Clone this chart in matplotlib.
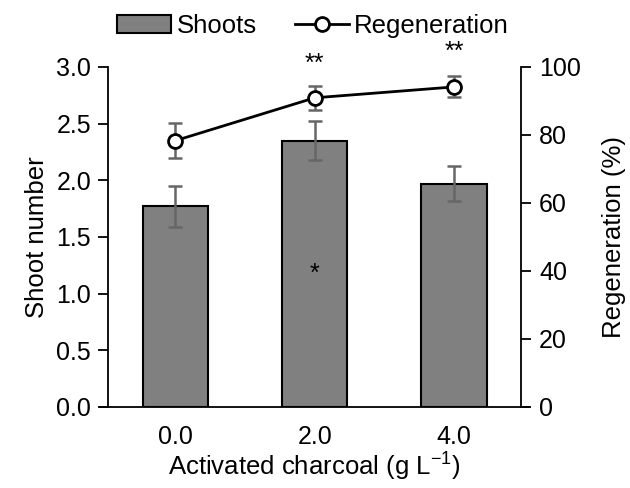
import matplotlib
matplotlib.use("Agg")
import matplotlib.pyplot as plt
import numpy as np

plt.rcParams['font.family'] = ['Liberation Sans', 'DejaVu Sans']
plt.rcParams['mathtext.fontset'] = 'custom'
plt.rcParams['mathtext.rm'] = 'Liberation Sans'

# data
charcoal = ["0.0", "2.0", "4.0"]
shoots = [1.77, 2.35, 1.97]
shoots_err = [0.18, 0.175, 0.155]
regen = [78.3, 90.9, 94.1]
regen_err = [5.2, 3.6, 3.1]

fs_tick = 18
fs_lab = 18.5
fs_leg = 18.5

fig = plt.figure(figsize=(6.3, 4.88), dpi=100)
ax = fig.add_axes([0.171, 0.166, 0.656, 0.697])
x = np.arange(len(charcoal))

bars = ax.bar(x, shoots, width=0.47, color="#808080", edgecolor="black",
              linewidth=1.5, label="Shoots", zorder=2)
ax.errorbar(x, shoots, yerr=shoots_err, fmt="none", ecolor="#666666",
            elinewidth=1.8, capsize=5, capthick=1.8, zorder=3)

ax.set_xlim(-0.485, 2.48)
ax.set_ylim(0, 3.0)
ax.set_yticks(np.arange(0, 3.01, 0.5))
ax.set_yticklabels([f"{v:.1f}" for v in np.arange(0, 3.01, 0.5)])
ax.set_xticks(x)
ax.set_xticklabels(charcoal)
ax.set_ylabel("Shoot number", fontsize=fs_lab, labelpad=5)
ax.set_xlabel("Activated charcoal (g L$^{\\mathregular{-1}}$)", fontsize=fs_lab, labelpad=0)
ax.tick_params(axis="y", direction="out", length=7, width=1.3, labelsize=fs_tick, pad=5)
ax.tick_params(axis="x", length=0, labelsize=fs_tick, pad=13)
for s in ["top", "right"]:
    ax.spines[s].set_visible(False)
ax.spines["left"].set_linewidth(1.3)
ax.spines["bottom"].set_visible(False)
# horizontal axis line crossing both vertical axes
ax.plot([-0.018, 1.02], [0, 0], color="black", lw=1.3, transform=ax.transAxes,
        clip_on=False, zorder=5)

ax2 = ax.twinx()
ax2.set_ylim(0, 100)
ax2.set_yticks(np.arange(0, 101, 20))
ax2.errorbar(x, regen, yerr=regen_err, fmt="none", ecolor="#666666",
             elinewidth=1.8, capsize=5, capthick=1.8, zorder=3)
line, = ax2.plot(x, regen, color="black", lw=2, marker="o", markersize=10,
                 markerfacecolor="white", markeredgecolor="black",
                 markeredgewidth=2, label="Regeneration", zorder=4)
ax2.set_ylabel("Regeneration (%)", fontsize=fs_lab, labelpad=15)
ax2.tick_params(axis="y", direction="out", length=7, width=1.3, labelsize=fs_tick, pad=6)
for s in ["top", "left", "bottom"]:
    ax2.spines[s].set_visible(False)
ax2.spines["right"].set_linewidth(1.3)

# significance marks
ax.text(1, 1.175, "*", ha="center", va="center", fontsize=fs_tick)
ax2.text(1, 100.9, "**", ha="center", va="center", fontsize=fs_tick, clip_on=False)
ax2.text(2, 104.4, "**", ha="center", va="center", fontsize=fs_tick, clip_on=False)

fig.legend([bars, line], ["Shoots", "Regeneration"], loc="center",
           bbox_to_anchor=(0.497, 0.947), ncol=2, frameon=False, fontsize=fs_leg,
           handlelength=2.1, handletextpad=0.2, columnspacing=1.5,
           borderaxespad=0)

fig.savefig("out.png", dpi=100)
